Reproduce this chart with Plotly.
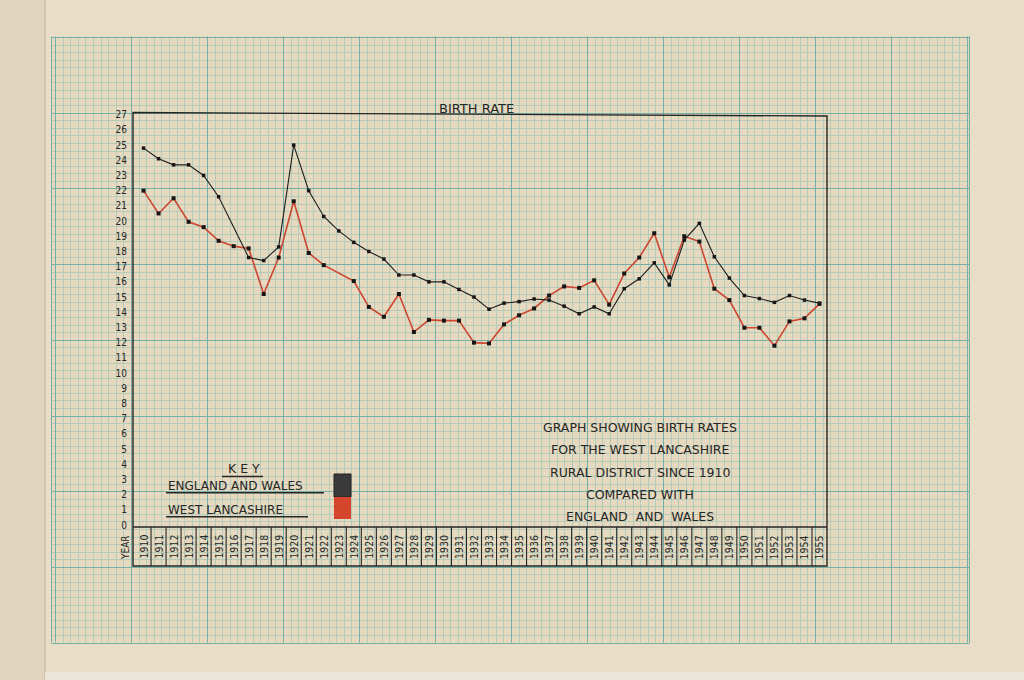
import plotly.graph_objects as go

# ---------------- data ----------------
years = list(range(1910, 1956))
england_wales = [24.8, 24.1, 23.7, 23.7, 23.0, 21.6, None, 17.6, 17.4, 18.3,
                 25.0, 22.0, 20.3, 19.35, 18.6, 18.0, 17.5, 16.45, 16.45, 16.0,
                 16.0, 15.5, 15.0, 14.2, 14.6, 14.7, 14.87, 14.8, 14.4, 13.9,
                 14.35, 13.9, 15.55, 16.2, 17.25, 15.8, 18.75, 19.85, 17.65, 16.25,
                 15.1, 14.9, 14.65, 15.1, 14.8, 14.6]
west_lancashire = [22.0, 20.5, 21.5, 19.95, 19.6, 18.7, 18.35, 18.2, 15.2, 17.6,
                   21.3, 17.9, 17.1, None, 16.05, 14.35, 13.7, 15.2, 12.7, 13.5,
                   13.45, 13.45, 12.0, 11.95, 13.2, 13.8, 14.25, 15.1, 15.7, 15.6,
                   16.1, 14.5, 16.55, 17.6, 19.2, 16.3, 19.0, 18.65, 15.55, 14.8,
                   12.98, 12.98, 11.8, 13.4, 13.6, 14.55]
y_ticks = list(range(0, 28))
title_text = "BIRTH RATE"
key_title = "K E Y"
key_labels = ["ENGLAND AND WALES", "WEST LANCASHIRE"]
key_colors = ["#3a3a3a", "#d5452c"]
caption_lines = ["GRAPH SHOWING BIRTH RATES", "FOR THE WEST LANCASHIRE",
                 "RURAL DISTRICT SINCE 1910", "COMPARED WITH",
                 "ENGLAND\u00a0 AND\u00a0 WALES"]

# ---------------- geometry helpers (pixels -> paper) ----------------
W, H = 1024, 680
L, R, T, B = 133, 827, 113, 527


def px(x):
    return (x - L) / (R - L)


def py(y):
    return (B - y) / (B - T)


INK = "#262626"
LETTER = "DejaVu Sans"
NARROW = "Liberation Sans Narrow, DejaVu Sans Condensed, Arial Narrow, sans-serif"

fig = go.Figure()
fig.add_trace(go.Scatter(
    x=years, y=west_lancashire, mode="lines+markers", connectgaps=True,
    name=key_labels[1], line=dict(color="#cc4630", width=1.6),
    marker=dict(symbol="square", size=4, color="#161616")))
fig.add_trace(go.Scatter(
    x=years, y=england_wales, mode="lines+markers", connectgaps=True,
    name=key_labels[0], line=dict(color="#1e1e1e", width=1.1),
    marker=dict(symbol="square", size=3.5, color="#161616")))

shapes = []
# other sheet on left and bottom strip
shapes.append(dict(type="rect", xref="paper", yref="paper", x0=px(0), x1=px(45),
                   y0=py(H), y1=py(0), fillcolor="#e1d4bd", line=dict(width=0), layer="below"))
shapes.append(dict(type="line", xref="paper", yref="paper", x0=px(45), x1=px(45),
                   y0=py(H), y1=py(0), line=dict(color="#cdbea6", width=1.5), layer="below"))
shapes.append(dict(type="rect", xref="paper", yref="paper", x0=px(45), x1=px(W),
                   y0=py(H), y1=py(672), fillcolor="#ebe5d8", line=dict(width=0), layer="below"))
# graph paper area
GX0, GX1, GY0, GY1 = 51.5, 969.5, 36.5, 642.5
shapes.append(dict(type="rect", xref="paper", yref="paper", x0=px(GX0), x1=px(GX1),
                   y0=py(GY1), y1=py(GY0), fillcolor="#e6d9bf", line=dict(width=0), layer="below"))

minor, major = [], []
for k in range(0, 121):
    x = round(55 + 7.6 * k) + 0.5
    seg = f"M{px(x):.6f},{py(GY1):.6f}L{px(x):.6f},{py(GY0):.6f}"
    (major if k % 10 == 0 else minor).append(seg)
for k in range(0, 81):
    y = round(37 + 7.57 * k) + 0.5
    seg = f"M{px(GX0):.6f},{py(y):.6f}L{px(GX1):.6f},{py(y):.6f}"
    (major if k % 10 == 0 else minor).append(seg)
for x in (GX0, GX1):
    major.append(f"M{px(x):.6f},{py(GY1):.6f}L{px(x):.6f},{py(GY0):.6f}")
shapes.append(dict(type="path", xref="paper", yref="paper", path="".join(minor),
                   line=dict(color="#b5cbbb", width=1), layer="below"))
shapes.append(dict(type="path", xref="paper", yref="paper", path="".join(major),
                   line=dict(color="#74b0a8", width=1), layer="below"))

# chart frame + year row
frame = (f"M{px(133):.5f},{py(566):.5f}L{px(133):.5f},{py(112.5):.5f}"
         f"L{px(827):.5f},{py(116):.5f}L{px(827):.5f},{py(566):.5f}Z"
         f"M{px(133):.5f},{py(527):.5f}L{px(827):.5f},{py(527):.5f}")
shapes.append(dict(type="path", xref="paper", yref="paper", path=frame,
                   line=dict(color=INK, width=1.4), layer="above"))
for yr in years[:-1]:
    shapes.append(dict(type="line", xref="x", yref="paper", x0=yr + 0.5, x1=yr + 0.5,
                       y0=py(527), y1=py(566), line=dict(color=INK, width=1.1)))

# key underlines and swatches
for (x0, x1, y) in [(222, 263, 476.5), (166, 324, 492.7), (166, 308, 516.7)]:
    shapes.append(dict(type="line", xref="paper", yref="paper", x0=px(x0), x1=px(x1),
                       y0=py(y), y1=py(y), line=dict(color=INK, width=1.4)))
shapes.append(dict(type="rect", xref="paper", yref="paper", x0=px(334), x1=px(351),
                   y0=py(497), y1=py(474), fillcolor=key_colors[0], line=dict(color="#222", width=1)))
shapes.append(dict(type="rect", xref="paper", yref="paper", x0=px(334), x1=px(351),
                   y0=py(519), y1=py(497), fillcolor=key_colors[1], line=dict(width=0)))


def note(text, x, y, size, family=LETTER, xanchor="center", angle=0, xref="paper"):
    return dict(text=text, x=x, y=y, xref=xref, yref="paper", xanchor=xanchor,
                yanchor="middle", textangle=angle, showarrow=False,
                font=dict(family=family, size=size, color=INK))


ann = [note(title_text, px(476), py(108.5), 13),
       note(key_title, px(244), py(468), 12.5)]
for lab, yy in zip(key_labels, [486, 510]):
    ann.append(note(lab, px(166), py(yy), 12, xanchor="left"))
for i, line in enumerate(caption_lines):
    ann.append(note(line, px(640), py(427.3 + 22.35 * i), 12.5))
for yr in years:
    ann.append(note(str(yr), yr, py(547), 10.5, family=NARROW, angle=-90, xref="x"))
ann.append(note("YEAR", px(125), py(548), 10, family=NARROW, angle=-90))

fig.update_layout(
    width=W, height=H, autosize=False,
    margin=dict(l=L, r=W - R, t=T, b=H - B, pad=0),
    paper_bgcolor="#e8ddc7", plot_bgcolor="rgba(0,0,0,0)",
    showlegend=False, shapes=shapes, annotations=ann,
    xaxis=dict(range=[1909.3, 1955.5], showgrid=False, zeroline=False, showline=False,
               showticklabels=False, ticks="", fixedrange=True),
    yaxis=dict(range=[-0.13, 27.11], tickvals=y_ticks, ticktext=[str(v) for v in y_ticks],
               showgrid=False, zeroline=False, showline=False, ticks="",
               ticklabelstandoff=5, tickfont=dict(family=NARROW, size=10, color=INK),
               fixedrange=True),
)

fig.write_html("out.html", post_script="document.body.style.margin='0';",
               config={"displayModeBar": False})
